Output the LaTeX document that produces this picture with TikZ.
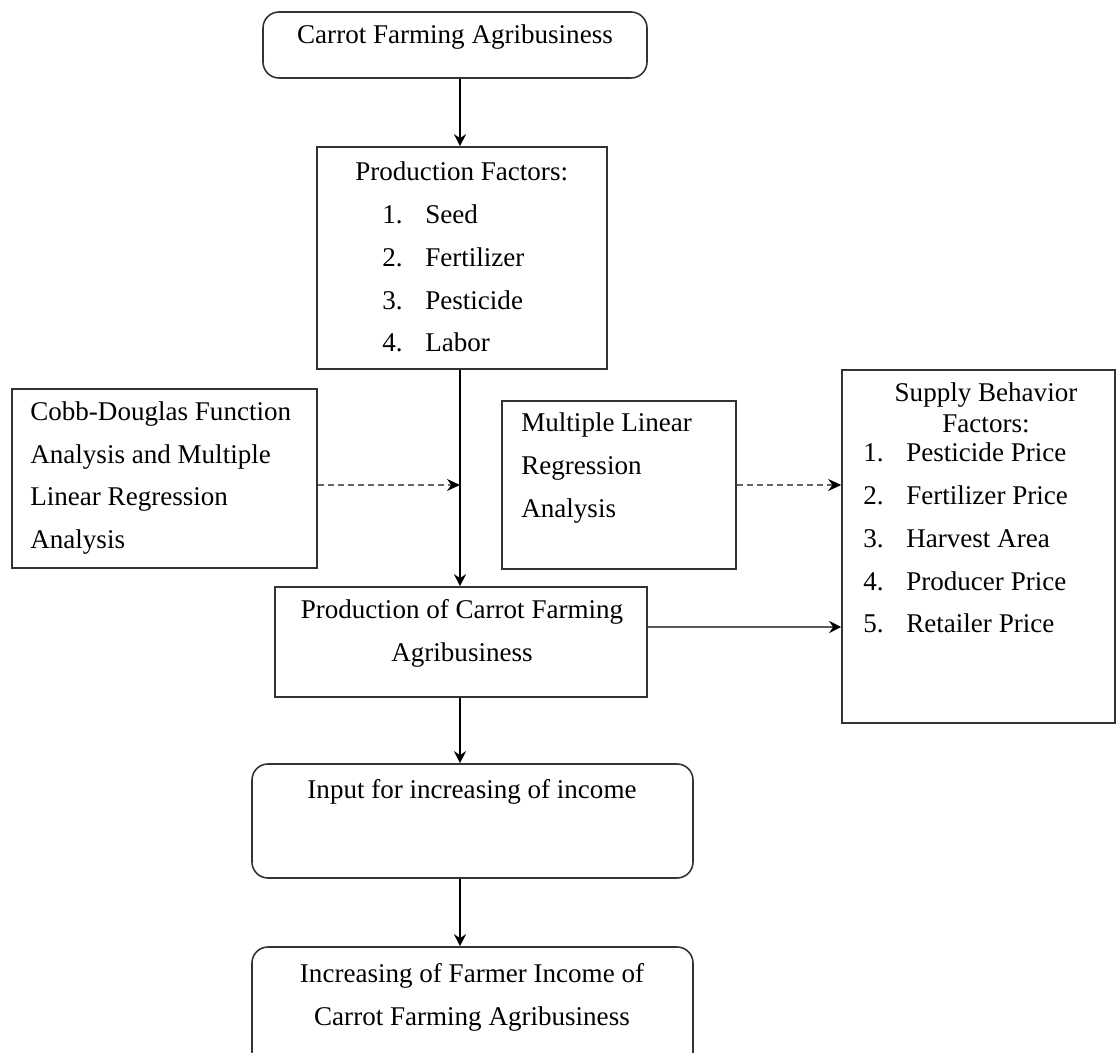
\documentclass[tikz,border=0pt]{standalone}
\usepackage{fontspec}
\setmainfont{Liberation Serif}
\usetikzlibrary{arrows.meta,fit}
\tikzset{>={Stealth[length=0.24cm,width=0.24cm]}}
\tikzset{
  box/.style={draw=black!80, line width=0.9pt, inner sep=0pt},
  rbox/.style={box, rounded corners=0.32cm},
  txt/.style={inner sep=0pt, font=\fontsize{15.4}{24.4}\selectfont},
  flow/.style={->, line width=0.9pt},
  dflow/.style={-{Stealth[length=0.26cm,width=0.24cm,black]}, line width=0.9pt, draw=black!60, dash pattern=on 0.12cm off 0.08cm}
}
\newcommand{\itm}[2]{\makebox[0.86cm][l]{#1}#2}

\begin{document}
\begin{tikzpicture}[x=0.02cm, y=-0.02cm]
    \useasboundingbox (0,0) rectangle (1119,1053);
    \clip (0,0) rectangle (1119,1053);

    % boxes
    \node[rbox, fit={(263,12) (647,78)}] (farm) {};
    \node[txt] (farm-t) at (455,37) {Carrot Farming Agribusiness};

    \node[box, fit={(317,147) (607,369)}] (factors) {};
    \node[txt, align=left, anchor=west] (factors-t) at (355,257)
        {Production Factors:\\
         \hspace*{0.54cm}\itm{1.}{Seed}\\
         \hspace*{0.54cm}\itm{2.}{Fertilizer}\\
         \hspace*{0.54cm}\itm{3.}{Pesticide}\\
         \hspace*{0.54cm}\itm{4.}{Labor}};

    \node[box, fit={(12,389) (317,568)}] (cobb) {};
    \node[txt, align=left, anchor=west] (cobb-t) at (30,478)
        {Cobb-Douglas Function\\Analysis and Multiple\\Linear Regression\\Analysis};

    \node[box, fit={(502,401) (736,569)}] (mlr) {};
    \node[txt, align=left, anchor=west] (mlr-t) at (521,468)
        {Multiple Linear\\Regression\\Analysis};

    \node[box, fit={(842,370) (1115,723)}] (supply) {};
    \node[txt, align=center, font=\fontsize{15.4}{17.5}\selectfont] (supply-h) at (986,408)
        {Supply Behavior\\Factors:};
    \node[txt, align=left, anchor=west] (supply-t) at (863,538)
        {\itm{1.}{Pesticide Price}\\
         \itm{2.}{Fertilizer Price}\\
         \itm{3.}{Harvest Area}\\
         \itm{4.}{Producer Price}\\
         \itm{5.}{Retailer Price}};

    \node[box, fit={(275,587) (647,697)}] (prod) {};
    \node[txt, align=center] (prod-t) at (462,633)
        {Production of Carrot Farming\\Agribusiness};

    \node[rbox, fit={(252,764) (693,878)}] (input) {};
    \node[txt] (input-t) at (472,792) {Input for increasing of income};

    \node[rbox, fit={(252,947) (693,1068)}] (income) {};
    \node[txt, align=center] (income-t) at (472,997)
        {Increasing of Farmer Income of\\Carrot Farming Agribusiness};

    % connectors
    \coordinate (spine) at (460,0);
    \coordinate (dash) at (460,485);
    \coordinate (feed) at (0,627);

    \draw[flow] (farm.south -| spine) -- (factors.north -| spine);
    \draw[flow] (factors.south -| spine) -- (prod.north -| spine);
    \draw[dflow] (cobb.east |- dash) -- (dash);
    \draw[dflow] (mlr.east |- dash) -- (supply.west |- dash);
    \draw[-{Stealth[length=0.24cm,width=0.24cm,black]}, line width=0.9pt, draw=black!65] (prod.east |- feed) -- (supply.west |- feed);
    \draw[flow] (prod.south -| spine) -- (input.north -| spine);
    \draw[flow] (input.south -| spine) -- (income.north -| spine);

\end{tikzpicture}
\end{document}
